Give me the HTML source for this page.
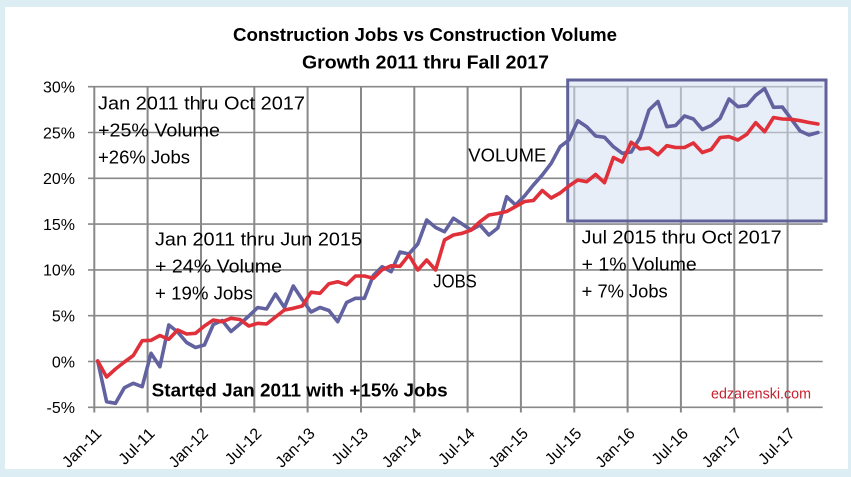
<!DOCTYPE html>
<html><head><meta charset="utf-8"><style>
html,body{margin:0;padding:0;background:#dcedf3;}
svg{display:block;font-family:"Liberation Sans",sans-serif;}
</style></head><body>
<svg width="851" height="477" viewBox="0 0 851 477" xmlns="http://www.w3.org/2000/svg">
<rect x="0" y="0" width="851" height="477" fill="#dcedf3"/>
<rect x="5" y="7" width="843" height="462" fill="#ffffff"/>
<!-- title -->
<text x="233" y="41" font-size="18" font-weight="bold" fill="#000" textLength="384" lengthAdjust="spacingAndGlyphs">Construction Jobs vs Construction Volume</text>
<text x="302" y="68.5" font-size="18" font-weight="bold" fill="#000" textLength="247" lengthAdjust="spacingAndGlyphs">Growth 2011 thru Fall 2017</text>
<!-- horizontal gridlines -->
<g stroke="#888888" stroke-width="1.6">
<line x1="88" y1="86.7" x2="822.7" y2="86.7"/>
<line x1="88" y1="132.5" x2="822.7" y2="132.5"/>
<line x1="88" y1="178.3" x2="822.7" y2="178.3"/>
<line x1="88" y1="224.1" x2="822.7" y2="224.1"/>
<line x1="88" y1="269.9" x2="822.7" y2="269.9"/>
<line x1="88" y1="315.7" x2="822.7" y2="315.7"/>
<line x1="88" y1="361.5" x2="822.7" y2="361.5"/>
<line x1="88" y1="407.3" x2="822.7" y2="407.3"/>
</g>
<!-- vertical gridlines -->
<g stroke="#888888" stroke-width="2">
<line x1="94.3" y1="86.7" x2="94.3" y2="412.5"/>
<line x1="147.6" y1="86.7" x2="147.6" y2="412.5"/>
<line x1="201" y1="86.7" x2="201" y2="412.5"/>
<line x1="254.3" y1="86.7" x2="254.3" y2="412.5"/>
<line x1="307.6" y1="86.7" x2="307.6" y2="412.5"/>
<line x1="361" y1="86.7" x2="361" y2="412.5"/>
<line x1="414.3" y1="86.7" x2="414.3" y2="412.5"/>
<line x1="467.6" y1="86.7" x2="467.6" y2="412.5"/>
<line x1="520.9" y1="86.7" x2="520.9" y2="412.5"/>
<line x1="574.3" y1="86.7" x2="574.3" y2="412.5"/>
<line x1="627.6" y1="86.7" x2="627.6" y2="412.5"/>
<line x1="680.9" y1="86.7" x2="680.9" y2="412.5"/>
<line x1="734.3" y1="86.7" x2="734.3" y2="412.5"/>
<line x1="787.6" y1="86.7" x2="787.6" y2="412.5"/>
</g>
<!-- y labels -->
<g font-size="16" fill="#000" text-anchor="end">
<text x="75" y="92.5">30%</text>
<text x="75" y="138.3">25%</text>
<text x="75" y="184.1">20%</text>
<text x="75" y="229.9">15%</text>
<text x="75" y="275.7">10%</text>
<text x="75" y="321.5">5%</text>
<text x="75" y="367.3">0%</text>
<text x="75" y="413.1">-5%</text>
</g>
<!-- x labels -->
<g font-size="16" fill="#000" text-anchor="end">
<text transform="translate(102.5,434.5) rotate(-45)" textLength="48" lengthAdjust="spacingAndGlyphs">Jan-11</text>
<text transform="translate(155.8,434.5) rotate(-45)" textLength="44" lengthAdjust="spacingAndGlyphs">Jul-11</text>
<text transform="translate(209.1,434.5) rotate(-45)" textLength="48" lengthAdjust="spacingAndGlyphs">Jan-12</text>
<text transform="translate(262.5,434.5) rotate(-45)" textLength="44" lengthAdjust="spacingAndGlyphs">Jul-12</text>
<text transform="translate(315.8,434.5) rotate(-45)" textLength="48" lengthAdjust="spacingAndGlyphs">Jan-13</text>
<text transform="translate(369.1,434.5) rotate(-45)" textLength="44" lengthAdjust="spacingAndGlyphs">Jul-13</text>
<text transform="translate(422.5,434.5) rotate(-45)" textLength="48" lengthAdjust="spacingAndGlyphs">Jan-14</text>
<text transform="translate(475.8,434.5) rotate(-45)" textLength="44" lengthAdjust="spacingAndGlyphs">Jul-14</text>
<text transform="translate(529.1,434.5) rotate(-45)" textLength="48" lengthAdjust="spacingAndGlyphs">Jan-15</text>
<text transform="translate(582.5,434.5) rotate(-45)" textLength="44" lengthAdjust="spacingAndGlyphs">Jul-15</text>
<text transform="translate(635.8,434.5) rotate(-45)" textLength="48" lengthAdjust="spacingAndGlyphs">Jan-16</text>
<text transform="translate(689.1,434.5) rotate(-45)" textLength="44" lengthAdjust="spacingAndGlyphs">Jul-16</text>
<text transform="translate(742.5,434.5) rotate(-45)" textLength="48" lengthAdjust="spacingAndGlyphs">Jan-17</text>
<text transform="translate(795.8,434.5) rotate(-45)" textLength="44" lengthAdjust="spacingAndGlyphs">Jul-17</text>
</g>
<!-- highlight box -->
<rect x="567.7" y="80" width="258.3" height="141" fill="#d6e0f1" fill-opacity="0.55" stroke="#62629a" stroke-width="3"/>
<!-- annotations -->
<g font-size="18" fill="#000">
<text x="98" y="109.5" textLength="207" lengthAdjust="spacingAndGlyphs">Jan 2011 thru Oct 2017</text>
<text x="98" y="136.7" textLength="122" lengthAdjust="spacingAndGlyphs">+25% Volume</text>
<text x="98" y="163.3" textLength="92" lengthAdjust="spacingAndGlyphs">+26% Jobs</text>
<text x="155" y="245.7" textLength="207" lengthAdjust="spacingAndGlyphs">Jan 2011 thru Jun 2015</text>
<text x="155" y="272.3" textLength="127" lengthAdjust="spacingAndGlyphs">+ 24% Volume</text>
<text x="155" y="299.3" textLength="98" lengthAdjust="spacingAndGlyphs">+ 19% Jobs</text>
<text x="581.7" y="243.5" textLength="200" lengthAdjust="spacingAndGlyphs">Jul 2015 thru Oct 2017</text>
<text x="581.7" y="270.7" textLength="115" lengthAdjust="spacingAndGlyphs">+ 1% Volume</text>
<text x="581.7" y="297.3" textLength="86" lengthAdjust="spacingAndGlyphs">+ 7% Jobs</text>
<text x="468.3" y="161.7" textLength="78" lengthAdjust="spacingAndGlyphs">VOLUME</text>
<text x="433.3" y="287.7" textLength="43.5" lengthAdjust="spacingAndGlyphs">JOBS</text>
</g>
<text x="151.7" y="396.7" font-size="18" font-weight="bold" fill="#000" textLength="296" lengthAdjust="spacingAndGlyphs">Started Jan 2011 with +15% Jobs</text>
<text x="711" y="398.3" font-size="14.5" fill="#c8202e" textLength="100" lengthAdjust="spacingAndGlyphs">edzarenski.com</text>
<!-- volume (blue) -->
<polyline fill="none" stroke="#6262a0" stroke-width="3.6" stroke-linejoin="round" stroke-linecap="round" points="
97.7,361 106.6,401.7 115.5,403.3 124.4,387.7 133.3,383.3 142.2,386.7 151.0,353.3 159.9,366.7 168.8,325 177.7,332
186.6,342.5 195.5,347.5 204.4,345 213.3,324.5 222.2,320.5 231.0,331.5 239.9,324 248.8,316 257.7,307.5 266.6,309
275.5,294 284.4,307.5 293.3,286 302.2,299.5 311.1,312 320.0,307.5 328.9,310.5 337.7,321.7 346.6,302.5 355.5,298.3
364.4,298.3 373.3,275.5 382.2,266.7 391.1,271.7 400.0,252 408.9,254 417.8,244 426.7,220 435.6,227.5 444.5,231.7
453.4,218.3 462.2,224 471.1,230 480.0,225 488.9,235 497.8,228 506.7,196.7 515.6,205 524.5,196 533.4,185
542.3,175 551.2,163.3 560.1,146.7 568.9,140 577.8,120.7 586.7,126.7 595.6,136 604.5,137.3 613.4,146.7 622.3,153.3
631.2,152 640.1,137.5 649.0,110 657.9,101.5 666.8,126.7 675.6,125.5 684.5,116 693.4,119 702.3,129.5 711.2,125.5
720.1,118.3 729.0,99 737.9,106.7 746.8,105.5 755.7,95.3 764.6,88.5 773.5,107.3 782.3,107 791.2,119 800.1,131
809.0,135 817.9,132.5"/>
<!-- jobs (red) -->
<polyline fill="none" stroke="#e0303a" stroke-width="3.6" stroke-linejoin="round" stroke-linecap="round" points="
97.7,361 106.6,377 115.5,369 124.4,362 133.3,355.5 142.2,340.7 151.0,340.3 159.9,335.5 168.8,339.3 177.7,330
186.6,334 195.5,333.3 204.4,326 213.3,320 222.2,321.7 231.0,318.3 239.9,319.5 248.8,326 257.7,323.3 266.6,324
275.5,317 284.4,310 293.3,308.3 302.2,306 311.1,292.2 320.0,293.3 328.9,283.7 337.7,281.7 346.6,284.7 355.5,276
364.4,276 373.3,278.3 382.2,269.7 391.1,265.8 400.0,266.3 408.9,255 417.8,270 426.7,260 435.6,270 444.5,240
453.4,235 462.2,233.3 471.1,230 480.0,221.7 488.9,215 497.8,213.5 506.7,211.5 515.6,206.5 524.5,201.5 533.4,200.5
542.3,190.5 551.2,198 560.1,193 568.9,186 577.8,180 586.7,181.7 595.6,174.5 604.5,182.7 613.4,157.5 622.3,162
631.2,142.3 640.1,149 649.0,148 657.9,154.7 666.8,145.7 675.6,147.5 684.5,147.5 693.4,143 702.3,152.5 711.2,149.5
720.1,137.5 729.0,136.7 737.9,140 746.8,134.3 755.7,122.7 764.6,131.7 773.5,117.5 782.3,119 791.2,119.3 800.1,120.7
809.0,122.5 817.9,124"/>
</svg>
</body></html>
